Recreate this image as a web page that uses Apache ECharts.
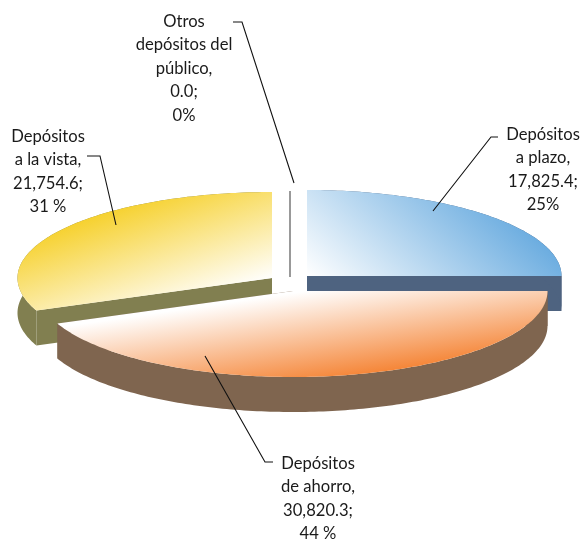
<!DOCTYPE html>
<html>
<head>
<meta charset="utf-8">
<style>
  html, body { margin: 0; padding: 0; background: #fff; }
  #chart { width: 580px; height: 539px; }
</style>
<script src="https://cdn.jsdelivr.net/npm/echarts@6/dist/echarts.min.js"></script>
</head>
<body>
<div id="chart"></div>
<script>
  // chart data
  const categories = ['Depósitos\na plazo,', 'Depósitos\nde ahorro,', 'Depósitos\na la vista,', 'Otros\ndepósitos del\npúblico,'];
  const amounts = [17825.4, 30820.3, 21754.6, 0.0];
  const amountLabels = ['17,825.4;', '30,820.3;', '21,754.6;', '0.0;'];
  const percentLabels = ['25%', '44 %', '31 %', '0%'];

  // layout of each slice, same order as the data
  const apexX = [307, 293, 272, 290];
  const apexY = [276, 291, 278, 277];
  const drawOrder = [1, 3, 2, 0];
  const sideColors = ['#4e6380', '#7f654f', '#817f50', '#555555'];
  const gradients = [
    [307, 276, 429, 141, '#ffffff', '#6cade0'],
    [300, 292, 313, 381, '#ffffff', '#f5873a'],
    [120, 190, 165, 317, '#f5cb13', '#ffffff'],
    [0, 0, 0, 1, '#555555', '#555555']
  ];
  const labelX = [543, 318, 48, 184];
  const labelY = [123, 452, 125, 10];
  const leaders = [
    [[433, 211], [491, 137], [498, 137]],
    [[205, 356], [265, 462], [273, 462]],
    [[116, 225], [100, 156], [87, 156]],
    [[294, 183], [242, 22], [233, 22]]
  ];

  const radiusX = 254.5;
  const radiusY = 86;
  const depth = 35;
  const total = amounts.reduce((a, b) => a + b, 0);

  // the 3D view squeezes the angles a little, so the first slice ends level
  function viewAngle(deg) {
    const s = Math.sin(deg * Math.PI / 180);
    return deg - 1.15 * s * s;
  }

  function rimPoint(i, deg) {
    const r = viewAngle(deg) * Math.PI / 180;
    return [apexX[i] + radiusX * Math.sin(r), apexY[i] - radiusY * Math.cos(r)];
  }

  function shifted(points) {
    return points.map((p) => [p[0], p[1] + depth]);
  }

  function renderSlice(params, api) {
    const i = params.dataIndex;
    const start = api.value(0) / total * 360;
    const end = start + api.value(1) / total * 360;
    const base = drawOrder[i] * 10;
    const apex = [apexX[i], apexY[i]];

    let rim = [];
    for (let d = start; d < end; d += 1) {
      rim.push(rimPoint(i, d));
    }
    rim.push(rimPoint(i, end));

    const children = [];

    // the zero slice is only a thin line
    if (end - start < 0.01) {
      children.push({
        type: 'line',
        z2: base,
        shape: { x1: apex[0], y1: apex[1], x2: rim[0][0], y2: rim[0][1] },
        style: { stroke: sideColors[i], lineWidth: 1.2 }
      });
      return { type: 'group', children: children };
    }

    const sideStyle = { fill: sideColors[i] };
    const faces = [
      [apex, rim[0]],
      [apex, rim[rim.length - 1]],
      rim
    ];
    faces.forEach((face) => {
      children.push({
        type: 'polygon',
        z2: base,
        shape: { points: face.concat(shifted(face).reverse()) },
        style: sideStyle
      });
    });

    const g = gradients[i];
    children.push({
      type: 'polygon',
      z2: base + 1,
      shape: { points: [apex].concat(rim) },
      style: {
        fill: {
          type: 'linear', global: true,
          x: g[0], y: g[1], x2: g[2], y2: g[3],
          colorStops: [{ offset: 0, color: g[4] }, { offset: 1, color: g[5] }]
        }
      }
    });
    return { type: 'group', children: children };
  }

  function renderLabel(params, api) {
    const i = params.dataIndex;
    return {
      type: 'group',
      children: [
        {
          type: 'polyline',
          z2: 100,
          shape: { points: leaders[i] },
          style: { fill: 'none', stroke: '#111111', lineWidth: 1.1 }
        },
        {
          type: 'text',
          z2: 101,
          style: {
            x: labelX[i],
            y: labelY[i],
            text: categories[i] + '\n' + amountLabels[i] + '\n' + percentLabels[i],
            align: 'center',
            verticalAlign: 'top',
            font: '16.6px Lato',
            lineHeight: 23.4,
            fill: '#1a1a1a'
          }
        }
      ]
    };
  }

  // each row: cumulative start, amount
  let running = 0;
  const sliceRows = amounts.map((v) => {
    const row = [running, v];
    running += v;
    return row;
  });

  const myChart = echarts.init(document.getElementById('chart'), null, { renderer: 'canvas' });
  myChart.setOption({
    animation: false,
    backgroundColor: '#ffffff',
    series: [
      { type: 'custom', coordinateSystem: 'none', renderItem: renderSlice, data: sliceRows, silent: true },
      { type: 'custom', coordinateSystem: 'none', renderItem: renderLabel, data: sliceRows, silent: true, z: 5 }
    ]
  });
</script>
</body>
</html>
